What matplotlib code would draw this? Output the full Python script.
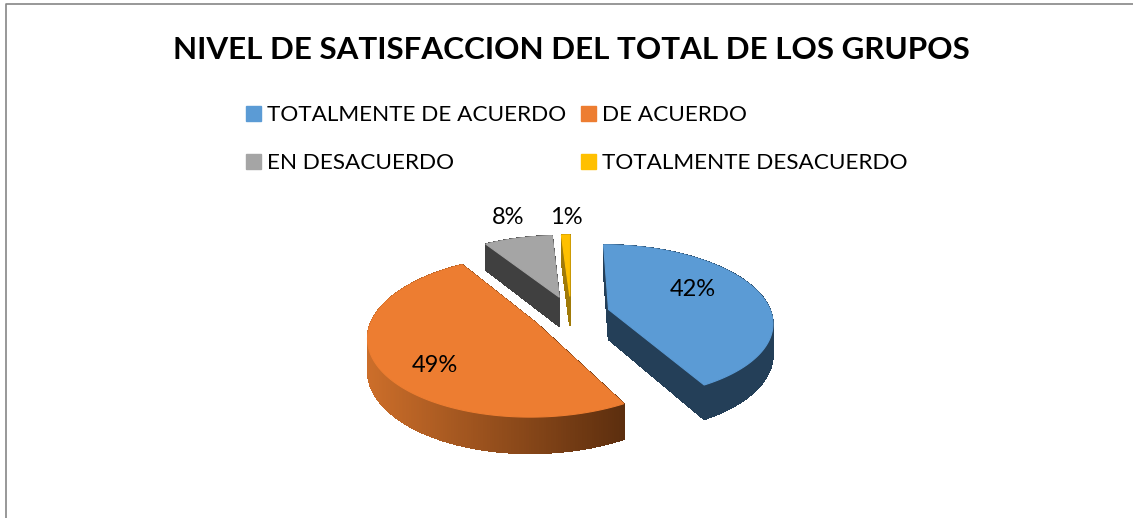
import numpy as np
import matplotlib
matplotlib.use('Agg')
import matplotlib.pyplot as plt
from matplotlib.collections import PolyCollection
from matplotlib.colors import to_rgb
from matplotlib.lines import Line2D
from matplotlib.patches import Patch

plt.rcParams['font.family'] = ['Lato', 'DejaVu Sans']

# Data
categories = ['TOTALMENTE DE ACUERDO', 'DE ACUERDO', 'EN DESACUERDO', 'TOTALMENTE DESACUERDO']
values = [42, 49, 8, 1]
title = 'NIVEL DE SATISFACCION DEL TOTAL DE LOS GRUPOS'

colors = ['#5B9BD5', '#ED7D31', '#A5A5A5', '#FFC000']
# wall colour at the left and at the right of each slice
wall_left = ['#243F58', '#CC6E2A', '#404040', '#A07A08']
wall_right = ['#243F58', '#5C2E0E', '#404040', '#A07A08']

W, H = 1133, 518
CX, CY = 571, 314    # pie centre in pixels
RX, RY = 163, 76     # disc radius in pixels
PERSP = 0.154
EXPLODE = 0.24
DEPTH = 30 / RY


def project(u, v):
    den = 1 + PERSP * v
    return u / den, v / den


def px(x, y):
    # pixel position in the reference -> data coords
    return (x - CX) / RX, (CY - y) / RY


fig = plt.figure(figsize=(W / 100, H / 100), dpi=100)
ax = fig.add_axes([0, 0, 1, 1])
ax.set_xlim(-CX / RX, (W - CX) / RX)
ax.set_ylim((CY - H) / RY, CY / RY)
ax.axis('off')

# Slice angles, clockwise from 12 o'clock
fracs = np.array(values) / sum(values) * 2 * np.pi
ends = np.cumsum(fracs)
starts = ends - fracs

# painter's order: back slices first
for i in [3, 2, 0, 1]:
    mid = (starts[i] + ends[i]) / 2
    off_u, off_v = EXPLODE * np.sin(mid), EXPLODE * np.cos(mid)
    theta = np.linspace(starts[i], ends[i], max(int(fracs[i] * 80), 6))
    u = np.r_[off_u, off_u + np.sin(theta), off_u]
    v = np.r_[off_v, off_v + np.cos(theta), off_v]
    X, Y = project(u, v)
    drop = DEPTH / (1 + PERSP * v)

    quads = []
    for k in range(len(X) - 1):
        quads.append([(X[k], Y[k]), (X[k + 1], Y[k + 1]),
                      (X[k + 1], Y[k + 1] - drop[k + 1]), (X[k], Y[k] - drop[k])])
    xm = (X[:-1] + X[1:]) / 2
    t = (xm - X.min()) / (X.max() - X.min())
    c0, c1 = np.array(to_rgb(wall_left[i])), np.array(to_rgb(wall_right[i]))
    face = c0 + (c1 - c0) * t[:, None]
    ax.add_collection(PolyCollection(quads, facecolors=face, edgecolors=face, linewidths=0.5,
                                     antialiaseds=False, zorder=2))
    ax.fill(X, Y, color=colors[i], lw=0.8, zorder=2.5)

# Percent labels
label_px = [(693, 289), (435, 365), (508, 217), (566, 217)]
for val, (lx, ly) in zip(values, label_px):
    ax.text(*px(lx, ly), f'{val}%', fontsize=17, color='black', ha='center', va='center', zorder=5)

fig.text(571 / W, 1 - 50 / H, title, fontsize=22.6, fontweight='bold', ha='center', va='center')

# Legend, filled by columns so reorder the entries
handles = [Patch(color=c) for c in colors]
order = [0, 2, 1, 3]
fig.legend([handles[j] for j in order], [categories[j] for j in order],
           ncol=2, loc='upper left', bbox_to_anchor=(246 / W, 1 - 105 / H), frameon=False,
           fontsize=16.2, handlelength=0.65, handleheight=0.65, handletextpad=0.27,
           columnspacing=0.67, labelspacing=1.25, borderpad=0, borderaxespad=0)

# Chart frame, cut off at the right and bottom
fig.add_artist(Line2D([6 / W, 6 / W, 1], [0, 1 - 4 / H, 1 - 4 / H], color='#868686', lw=1.2))

fig.savefig('out.png', dpi=100)
